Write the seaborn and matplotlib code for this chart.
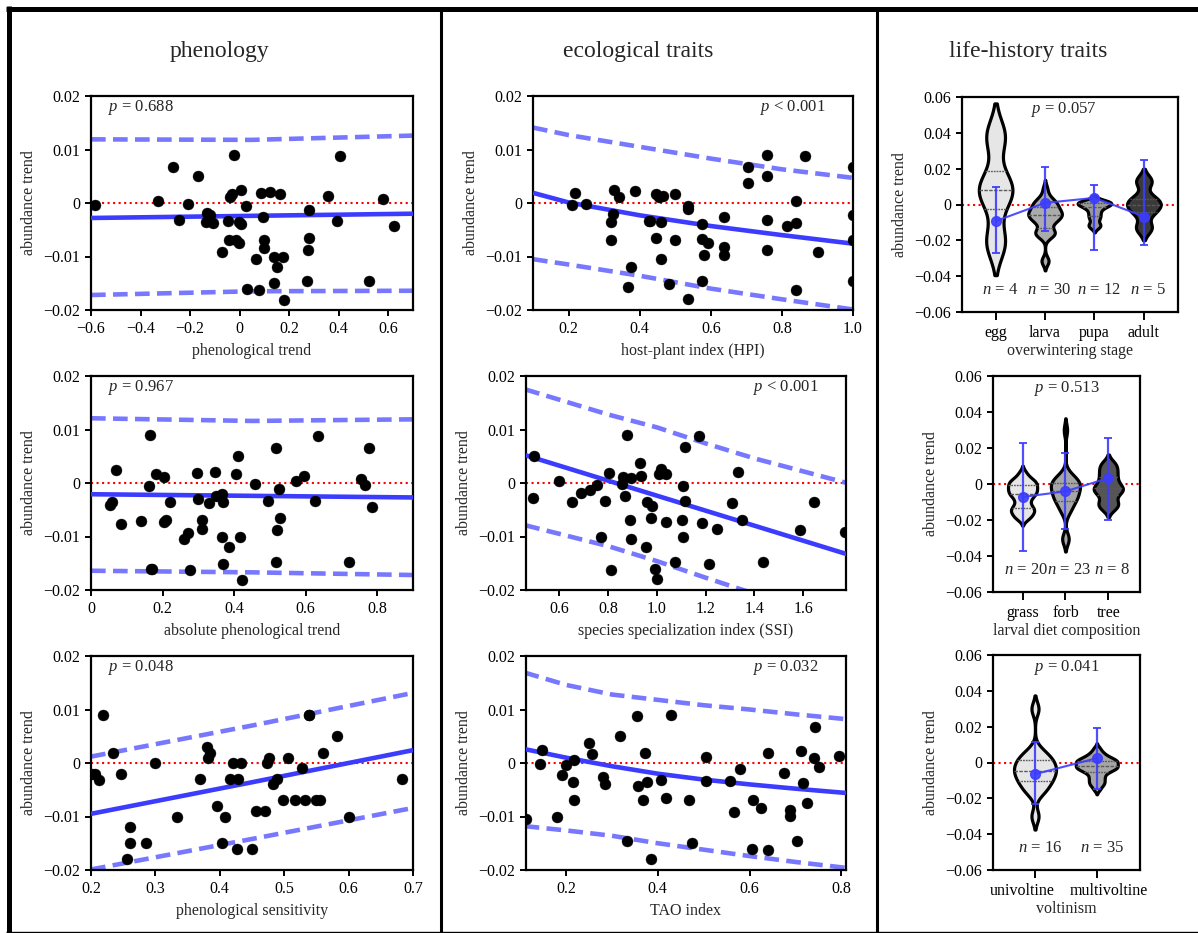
import numpy as np
import pandas as pd
import matplotlib
matplotlib.use("Agg")
import matplotlib.pyplot as plt
from matplotlib.lines import Line2D
from matplotlib.ticker import FuncFormatter, FixedLocator
from matplotlib.transforms import ScaledTranslation
import seaborn as sns

# ---------------- data ----------------
# panel: phenological trend
phen_x = [-0.585, -0.329, -0.268, -0.244, -0.21, -0.17, -0.132, -0.136, -0.12, -0.108, -0.073, -0.046,
          -0.043, -0.04, -0.031, -0.024, -0.016, -0.003, -0.003, 0.005, 0.005, 0.027, 0.031, 0.067, 0.077,
          0.086, 0.093, 0.097, 0.097, 0.121, 0.137, 0.137, 0.151, 0.164, 0.176, 0.18, 0.272, 0.275, 0.279,
          0.279, 0.358, 0.395, 0.407, 0.521, 0.577, 0.622]
phen_y = [-0.0004, 0.0004, 0.0067, -0.0032, -0.0002, 0.0050, -0.0018, -0.0036, -0.0023, -0.0038, -0.0092,
          -0.0034, -0.0069, 0.0011, 0.0017, 0.0090, -0.0069, -0.0074, -0.0035, -0.0039, 0.0025, -0.0006,
          -0.0160, -0.0104, -0.0163, 0.0019, -0.0027, -0.0069, -0.0085, 0.0021, -0.0100, -0.0150, -0.0119,
          0.0017, -0.0100, -0.0181, -0.0146, -0.0087, -0.0065, -0.0013, 0.0013, -0.0033, 0.0088, -0.0146,
          0.0008, -0.0043]
phen_fit_x = [-0.6, 0.05, 0.7]
phen_fit = [-0.0028, -0.0024, -0.0020]
phen_up = [0.0119, 0.0118, 0.0126]
phen_lo = [-0.0172, -0.0165, -0.0164]

# panel: absolute phenological trend
abs_x = [0.054, 0.060, 0.070, 0.084, 0.140, 0.164, 0.163, 0.168, 0.171, 0.181, 0.204, 0.204, 0.210, 0.220,
         0.260, 0.272, 0.278, 0.296, 0.300, 0.309, 0.309, 0.331, 0.346, 0.348, 0.365, 0.369, 0.367, 0.370,
         0.387, 0.404, 0.412, 0.417, 0.422, 0.459, 0.496, 0.517, 0.521, 0.525, 0.527, 0.517, 0.573, 0.595,
         0.626, 0.635, 0.721, 0.755, 0.765, 0.776, 0.785]
abs_y = [-0.0041, -0.0036, 0.0025, -0.0076, -0.0071, 0.0090, -0.0006, -0.0160, -0.0161, 0.0017, 0.0011,
         -0.0072, -0.0070, -0.0036, -0.0105, -0.0093, -0.0163, 0.0018, -0.0029, -0.0070, -0.0086, -0.0038,
         0.0021, -0.0025, -0.0020, -0.0036, -0.0100, -0.0152, -0.0120, 0.0016, 0.0050, -0.0100, -0.0181,
         -0.0002, -0.0034, 0.0066, -0.0087, -0.0012, -0.0066, -0.0147, 0.0004, 0.0014, -0.0034, 0.0088,
         -0.0148, 0.0008, -0.0004, 0.0066, -0.0044]
abs_fit_x = [0.0, 0.45, 0.9]
abs_fit = [-0.0021, -0.0024, -0.0027]
abs_up = [0.0121, 0.0116, 0.0119]
abs_lo = [-0.0164, -0.0167, -0.0172]

# panel: phenological sensitivity
sens_x = [0.202, 0.206, 0.212, 0.219, 0.234, 0.246, 0.256, 0.260, 0.261, 0.286, 0.300, 0.333, 0.369, 0.380,
          0.381, 0.385, 0.395, 0.404, 0.408, 0.416, 0.420, 0.428, 0.426, 0.433, 0.450, 0.456, 0.470, 0.473,
          0.477, 0.483, 0.489, 0.498, 0.506, 0.516, 0.528, 0.532, 0.538, 0.539, 0.549, 0.555, 0.560, 0.582,
          0.601, 0.683]
sens_y = [-0.0020, -0.0021, -0.0031, 0.0089, 0.0019, -0.0020, -0.0180, -0.0120, -0.0150, -0.0150, 0.0,
          -0.0100, -0.0030, 0.0030, 0.0010, 0.0019, -0.0080, -0.0150, -0.0100, -0.0030, 0.0, -0.0030,
          -0.0160, 0.0, -0.0160, -0.0090, -0.0090, 0.0, 0.0010, -0.0040, -0.0030, -0.0070, 0.0010, -0.0070,
          -0.0010, -0.0070, 0.0089, 0.0089, -0.0070, -0.0070, 0.0019, 0.0050, -0.0100, -0.0030]
sens_fit_x = [0.2, 0.45, 0.7]
sens_fit = [-0.0095, -0.0036, 0.0024]
sens_up = [0.0012, 0.0070, 0.0131]
sens_lo = [-0.0199, -0.0142, -0.0084]

# panel: host-plant index
hpi_x = [0.21, 0.218, 0.248, 0.324, 0.320, 0.320, 0.327, 0.342, 0.368, 0.376, 0.386, 0.426, 0.429, 0.445,
         0.445, 0.455, 0.459, 0.461, 0.467, 0.483, 0.5, 0.5, 0.535, 0.535, 0.535, 0.575, 0.575, 0.575, 0.580,
         0.593, 0.637, 0.637, 0.637, 0.705, 0.705, 0.758, 0.758, 0.758, 0.758, 0.814, 0.84, 0.84, 0.84,
         0.866, 0.901, 1.0, 1.0, 1.0, 1.0]
hpi_y = [-0.0003, 0.0019, -0.0002, -0.0020, -0.0036, -0.0070, 0.0025, 0.0011, -0.0157, -0.0119, 0.0022,
         -0.0033, -0.0034, 0.0017, -0.0065, 0.0011, -0.0036, -0.0104, 0.0014, -0.0151, 0.0017, -0.0070,
         -0.0006, -0.0012, -0.0180, -0.0040, -0.0068, -0.0146, -0.0098, -0.0075, -0.0027, -0.0083, -0.0098,
         0.0068, 0.0038, 0.0090, 0.0050, -0.0032, -0.0087, -0.0043, 0.0003, -0.0038, -0.0163, 0.0088,
         -0.0092, 0.0067, -0.0023, -0.0070, -0.0146]
hpi_fit_x = [0.1, 0.2, 0.4, 0.6, 0.8, 1.0]
hpi_fit = [0.0019, 0.0001, -0.0023, -0.0043, -0.0060, -0.0076]
hpi_up = [0.0141, 0.0127, 0.0105, 0.0083, 0.0063, 0.0047]
hpi_lo = [-0.0105, -0.0115, -0.0136, -0.0160, -0.0180, -0.0199]

# panel: species specialization index
ssi_x = [0.494, 0.490, 0.600, 0.651, 0.689, 0.727, 0.756, 0.771, 0.786, 0.804, 0.813, 0.859, 0.857, 0.870,
         0.877, 0.890, 0.894, 0.895, 0.931, 0.933, 0.956, 0.960, 0.979, 0.976, 0.992, 1.001, 1.008, 1.015,
         1.038, 1.038, 1.075, 1.104, 1.108, 1.108, 1.115, 1.116, 1.172, 1.185, 1.213, 1.245, 1.310, 1.334,
         1.348, 1.435, 1.587, 1.644, 1.770]
ssi_y = [0.0050, -0.0028, 0.0004, -0.0036, -0.0019, -0.0013, -0.0003, -0.0100, -0.0033, 0.0019, -0.0163,
         0.0012, -0.0002, -0.0024, 0.0090, -0.0070, 0.0010, -0.0105, 0.0038, 0.0013, -0.0119, -0.0036,
         -0.0043, -0.0065, -0.0160, -0.0180, 0.0017, 0.0026, 0.0017, -0.0072, -0.0147, -0.0070, -0.0006,
         -0.0100, 0.0067, -0.0033, 0.0088, -0.0075, -0.0151, -0.0086, -0.0038, 0.0021, -0.0070, -0.0147,
         -0.0088, -0.0036, -0.0092]
ssi_fit_x = [0.46, 1.78]
ssi_fit = [0.0052, -0.0133]
ssi_up_x = [0.46, 0.8, 1.0, 1.2, 1.4, 1.78]
ssi_up = [0.0175, 0.0128, 0.0104, 0.0074, 0.0046, 0.0]
ssi_lo = [-0.0079, -0.0118, -0.0146, -0.0177, -0.0207, -0.0270]

# panel: TAO index
tao_x = [0.114, 0.143, 0.148, 0.181, 0.191, 0.201, 0.215, 0.218, 0.218, 0.250, 0.257, 0.281, 0.284, 0.318,
         0.332, 0.354, 0.356, 0.367, 0.372, 0.376, 0.385, 0.408, 0.419, 0.428, 0.467, 0.475, 0.506, 0.506,
         0.557, 0.565, 0.580, 0.608, 0.606, 0.624, 0.640, 0.640, 0.675, 0.687, 0.689, 0.704, 0.712, 0.716,
         0.725, 0.740, 0.743, 0.751, 0.795]
tao_y = [-0.0104, -0.0002, 0.0025, -0.0100, -0.0023, -0.0004, -0.0036, 0.0006, -0.0070, 0.0038, 0.0017,
         -0.0027, -0.0040, 0.0050, -0.0146, 0.0087, -0.0043, -0.0069, 0.0019, -0.0036, -0.0180, -0.0032,
         -0.0065, 0.0089, -0.0070, -0.0150, 0.0011, -0.0033, -0.0034, -0.0092, -0.0012, -0.0069, -0.0160,
         -0.0085, 0.0018, -0.0163, -0.0019, -0.0087, -0.0099, -0.0146, 0.0022, -0.0038, -0.0074, 0.0009,
         0.0067, -0.0007, 0.0013]
tao_fit_x = [0.11, 0.2, 0.3, 0.4, 0.5, 0.6, 0.7, 0.81]
tao_fit = [0.0026, 0.0010, -0.0006, -0.0020, -0.0031, -0.0040, -0.0048, -0.0056]
tao_up = [0.0169, 0.0146, 0.0128, 0.0118, 0.0108, 0.0100, 0.0091, 0.0082]
tao_lo = [-0.0118, -0.0126, -0.0136, -0.0150, -0.0162, -0.0174, -0.0185, -0.0196]

# violin panels
stage_cats = ["egg", "larva", "pupa", "adult"]
stage_vals = {
    "egg": [-0.021, 0.004, 0.012, 0.038],
    "larva": [0.009, 0.005, 0.003, 0.002, 0.001, 0.0, 0.0, -0.001, -0.002, -0.003, -0.004, -0.004, -0.005,
              -0.005, -0.006, -0.006, -0.007, -0.008, -0.008, -0.009, -0.010, -0.011, -0.014, -0.015,
              -0.016, -0.016, -0.017, -0.018, -0.031, -0.032],
    "pupa": [0.002, 0.0015, 0.001, 0.0005, 0.0, -0.001, -0.002, -0.004, -0.006, -0.008, -0.011, -0.0125],
    "adult": [-0.013, -0.004, 0.0, 0.003, 0.013],
}
stage_n = [4, 30, 12, 5]
stage_mean = [-0.0093, 0.0009, 0.0037, -0.0067]
stage_lo = [-0.0273, -0.0150, -0.0252, -0.0226]
stage_hi = [0.0095, 0.0209, 0.0110, 0.0247]
stage_colors = ["#e6e6e6", "#ababab", "#9a9a9a", "#3a3a3a"]

diet_cats = ["grass", "forb", "tree"]
diet_vals = {
    "grass": [0.006, 0.003, 0.002, 0.001, 0.0, -0.001, -0.002, -0.003, -0.004, -0.005, -0.006, -0.007,
              -0.009, -0.011, -0.013, -0.014, -0.015, -0.016, -0.018, -0.019],
    "forb": [0.030, 0.006, 0.004, 0.003, 0.002, 0.001, 0.0, 0.0, -0.001, -0.002, -0.003, -0.004, -0.005,
             -0.006, -0.007, -0.008, -0.009, -0.010, -0.012, -0.014, -0.016, -0.030, -0.031],
    "tree": [0.011, 0.007, 0.003, -0.001, -0.003, -0.005, -0.010, -0.013],
}
diet_n = [20, 23, 8]
diet_mean = [-0.0072, -0.0041, 0.0033]
diet_lo = [-0.0374, -0.0248, -0.0202]
diet_hi = [0.0228, 0.0172, 0.0257]
diet_colors = ["#e6e6e6", "#a6a6a6", "#555555"]

volt_cats = ["univoltine", "multivoltine"]
volt_vals = {
    "univoltine": [0.030, 0.007, 0.004, 0.002, 0.001, -0.001, -0.003, -0.004, -0.005, -0.007, -0.009,
                   -0.010, -0.012, -0.015, -0.017, -0.030],
    "multivoltine": [0.008, 0.006, 0.005, 0.004, 0.003, 0.003, 0.002, 0.002, 0.001, 0.001, 0.001, 0.0, 0.0,
                     0.0, -0.001, -0.001, -0.002, -0.002, -0.002, -0.003, -0.003, -0.003, -0.004, -0.004,
                     -0.005, -0.005, -0.006, -0.007, -0.008, -0.009, -0.010, -0.011, -0.012, -0.013, -0.015],
}
volt_n = [16, 35]
volt_mean = [-0.0065, 0.0024]
volt_lo = [-0.0233, -0.0149]
volt_hi = [0.0112, 0.0195]
volt_colors = ["#e6e6e6", "#a6a6a6"]

# ---------------- style ----------------
sns.set_theme(style="ticks")
plt.rcParams["font.family"] = ["Liberation Serif", "DejaVu Serif"]
plt.rcParams["mathtext.fontset"] = "custom"
plt.rcParams["mathtext.it"] = "Liberation Serif:italic"
plt.rcParams["mathtext.rm"] = "Liberation Serif"
plt.rcParams["axes.unicode_minus"] = True

W, H = 1198, 933
fig = plt.figure(figsize=(W / 100, H / 100), dpi=100)
fig.patch.set_facecolor("white")

FS = 11.5
BLUE = "#3c3cff"
LIGHTBLUE = "#7878ff"


def rect(l, r, t, b):
    return [l / W, 1 - b / H, (r - l) / W, (b - t) / H]


def fmt_factory(dec):
    def f(v, pos):
        if abs(v) < 1e-12:
            return "0"
        return (("%." + str(dec) + "f") % v).replace("-", "\u2212")
    return FuncFormatter(f)


def style_axes(ax):
    for s in ax.spines.values():
        s.set_linewidth(1.6)
        s.set_color("black")
        s.set_visible(True)
    ax.tick_params(axis="both", direction="out", length=4.5, width=1.4, labelsize=FS,
                   colors="black", top=False, right=False)
    ax.set_facecolor("white")


def scatter_panel(rc, x, y, fx, fit, ux, up, lo, xlim, xticks, xlabel, ptxt, pright):
    ax = fig.add_axes(rc)
    ax.axhline(0, color="red", linestyle=":", linewidth=1.5, zorder=1)
    ax.plot(ux, up, color=LIGHTBLUE, linewidth=3.3, dashes=(3.2, 1.6), zorder=2)
    ax.plot(ux, lo, color=LIGHTBLUE, linewidth=3.3, dashes=(3.2, 1.6), zorder=2)
    ax.plot(fx, fit, color=BLUE, linewidth=3.3, solid_capstyle="butt", zorder=3)
    df = pd.DataFrame({"x": x, "y": y})
    sns.scatterplot(data=df, x="x", y="y", color="black", s=62, edgecolor="black",
                    linewidth=0.3, zorder=4, ax=ax)
    ax.set_xlim(*xlim)
    ax.set_ylim(-0.02, 0.02)
    ax.yaxis.set_major_locator(FixedLocator([-0.02, -0.01, 0, 0.01, 0.02]))
    ax.yaxis.set_major_formatter(fmt_factory(2))
    ax.xaxis.set_major_locator(FixedLocator(xticks))
    ax.xaxis.set_major_formatter(fmt_factory(1))
    ax.set_xlabel(xlabel, fontsize=FS, labelpad=4)
    ax.set_ylabel("abundance trend", fontsize=FS, labelpad=4)
    style_axes(ax)
    if pright:
        ax.text(0.915, 0.945, ptxt, transform=ax.transAxes, ha="right", va="center", fontsize=FS + 0.5)
    else:
        ax.text(0.053, 0.945, ptxt, transform=ax.transAxes, ha="left", va="center", fontsize=FS + 0.5)
    return ax


def violin_panel(rc, cats, vals, colors, nlist, means, los, his, xlim, xlabel, ptxt, px):
    ax = fig.add_axes(rc)
    rows = []
    for c in cats:
        for v in vals[c]:
            rows.append((c, v))
    df = pd.DataFrame(rows, columns=["cat", "val"])
    ax.axhline(0, color="red", linestyle=":", linewidth=1.5, zorder=0.5)
    sns.violinplot(data=df, x="cat", y="val", hue="cat", order=cats, hue_order=cats,
                   palette=colors, legend=False, inner="quart", linewidth=2.3, linecolor="black",
                   density_norm="width", width=0.68, bw_adjust=0.5, cut=2,
                   inner_kws=dict(linewidth=1.0, color="0.35"), ax=ax)
    pos = np.arange(len(cats))
    m = np.array(means)
    yerr = [m - np.array(los), np.array(his) - m]
    ax.errorbar(pos, m, yerr=yerr, fmt="-o", color=BLUE, ecolor=BLUE, elinewidth=1.6,
                capsize=3, capthick=1.4, markersize=7, linewidth=1.5, alpha=0.9, zorder=10)
    for p, n in zip(pos, nlist):
        ax.text(p + 0.08, -0.048, "$n$ = %d" % n, ha="center", va="center", fontsize=FS + 0.5)
    ax.set_xlim(*xlim)
    ax.set_ylim(-0.06, 0.06)
    ax.yaxis.set_major_locator(FixedLocator([-0.06, -0.04, -0.02, 0, 0.02, 0.04, 0.06]))
    ax.yaxis.set_major_formatter(fmt_factory(2))
    ax.set_xlabel(xlabel, fontsize=FS, labelpad=1)
    ax.set_ylabel("abundance trend", fontsize=FS, labelpad=4)
    style_axes(ax)
    ax.tick_params(axis="x", length=6)
    ax.text(px, 0.944, ptxt, transform=ax.transAxes, ha="center", va="center", fontsize=FS + 0.5)
    return ax


scatter_panel(rect(91, 413, 96, 310), phen_x, phen_y, phen_fit_x, phen_fit, phen_fit_x, phen_up, phen_lo,
              (-0.6, 0.7), [-0.6, -0.4, -0.2, 0, 0.2, 0.4, 0.6], "phenological trend", "$p$ = 0.688", False)
scatter_panel(rect(91, 413, 376, 590), abs_x, abs_y, abs_fit_x, abs_fit, abs_fit_x, abs_up, abs_lo,
              (0, 0.9), [0, 0.2, 0.4, 0.6, 0.8], "absolute phenological trend", "$p$ = 0.967", False)
scatter_panel(rect(91, 413, 656, 870), sens_x, sens_y, sens_fit_x, sens_fit, sens_fit_x, sens_up, sens_lo,
              (0.2, 0.7), [0.2, 0.3, 0.4, 0.5, 0.6, 0.7], "phenological sensitivity", "$p$ = 0.048", False)
scatter_panel(rect(533, 853, 96, 310), hpi_x, hpi_y, hpi_fit_x, hpi_fit, hpi_fit_x, hpi_up, hpi_lo,
              (0.1, 1.0), [0.2, 0.4, 0.6, 0.8, 1.0], "host-plant index (HPI)", "$p$ < 0.001", True)
scatter_panel(rect(526, 846, 376, 590), ssi_x, ssi_y, ssi_fit_x, ssi_fit, ssi_up_x, ssi_up, ssi_lo,
              (0.463, 1.776), [0.6, 0.8, 1.0, 1.2, 1.4, 1.6], "species specialization index (SSI)",
              "$p$ < 0.001", True)
scatter_panel(rect(526, 846, 656, 870), tao_x, tao_y, tao_fit_x, tao_fit, tao_fit_x, tao_up, tao_lo,
              (0.113, 0.81), [0.2, 0.4, 0.6, 0.8], "TAO index", "$p$ = 0.032", True)

violin_panel(rect(962, 1178, 97, 312), stage_cats, stage_vals, stage_colors, stage_n, stage_mean,
             stage_lo, stage_hi, (-0.68, 3.69), "overwintering stage", "$p$ = 0.057", 0.47)
violin_panel(rect(993, 1140, 376, 592), diet_cats, diet_vals, diet_colors, diet_n, diet_mean,
             diet_lo, diet_hi, (-0.69, 2.74), "larval diet composition", "$p$ = 0.513", 0.5)
axv = violin_panel(rect(993, 1140, 655, 870), volt_cats, volt_vals, volt_colors, volt_n, volt_mean,
                   volt_lo, volt_hi, (-0.68, 1.70), "voltinism", "$p$ = 0.041", 0.5)
# spread the long category labels apart like the reference
fig.canvas.draw()
for lab, dx in zip(axv.get_xticklabels(), [-13, 12]):
    lab.set_transform(lab.get_transform() + ScaledTranslation(dx / 100, 0, fig.dpi_scale_trans))

# column titles
for xc, t in [(219, "phenology"), (638, "ecological traits"), (1028, "life-history traits")]:
    fig.text(xc / W, 1 - 52 / H, t, ha="center", va="center", fontsize=17)

# panel frame lines
def fl(x0, y0, x1, y1, lw):
    fig.add_artist(Line2D([x0 / W, x1 / W], [1 - y0 / H, 1 - y1 / H], color="black",
                          linewidth=lw, solid_capstyle="butt", transform=fig.transFigure))

fl(6, 8.5, W, 8.5, 3.6)
fl(8.5, 6, 8.5, H, 3.6)
fl(441, 8, 441, H, 2.2)
fl(877, 8, 877, H, 2.2)
fl(6, 931.5, W, 931.5, 1.0)

fig.savefig("out.png", dpi=100, facecolor="white")
